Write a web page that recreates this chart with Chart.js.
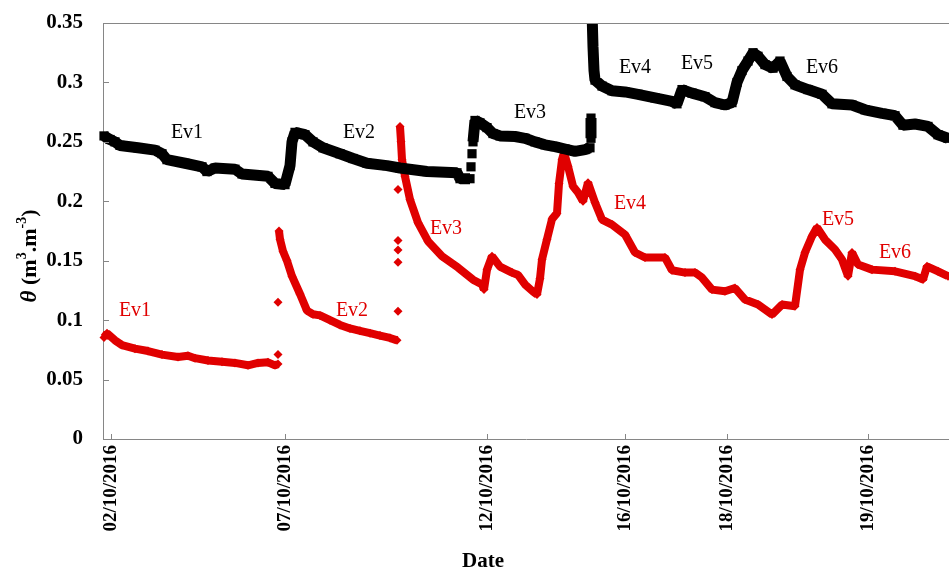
<!DOCTYPE html>
<html lang="en">
<head>
    <meta charset="UTF-8">
    <title>Soil moisture events</title>
    <script src="https://cdn.jsdelivr.net/npm/chart.js"></script>
    <style>
        body { margin: 0; background: #fff; }
        #wrap { width: 949px; height: 572px; }
    </style>
</head>
<body>
    <div id="wrap"><canvas id="chart" width="949" height="572"></canvas></div>

    <script>
        // sample index (x) and theta values; null = break in the record
        const blackX = [1, 7, 12, 17, 35, 52, 59, 64, 82, 99, 104, 112, 132, 139, 165, 172, 182, 187, 189, 192,
            202, 210, 220, 237, 250, 264, 284, 297, 324, 354, 357, 367, 367, 368, 368, 369, 369,
            370, 372, 377, 384, 390, 397, 412, 422, 432, 442, 452, 462, 472, 482, 487, 487,
            488, 488, 488, 488,
            489, 490, 491, 492, 499, 509, 522, 535, 552, 569, 574, 579, 589, 602, 612, 622, 629, 634, 639, 645,
            650, 655, 662, 670, 677, 684, 692, 705, 719, 729, 749, 762, 779, 792, 800, 812, 825, 835, 845];
        const blackY = [0.255, 0.252, 0.250, 0.247, 0.245, 0.243, 0.240, 0.235, 0.232, 0.229, 0.225, 0.228, 0.227, 0.223, 0.221, 0.215, 0.214, 0.230, 0.250, 0.258,
            0.256, 0.250, 0.245, 0.240, 0.236, 0.232, 0.230, 0.228, 0.225, 0.224, 0.219, 0.219, null, 0.229, null, 0.240, null,
            0.250, 0.268, 0.266, 0.262, 0.257, 0.255, 0.2545, 0.253, 0.250, 0.2475, 0.246, 0.244, 0.242, 0.2435, 0.245, null,
            0.253, 0.262, 0.270, null,
            0.36, 0.33, 0.31, 0.302, 0.297, 0.293, 0.292, 0.290, 0.287, 0.284, 0.282, 0.294, 0.291, 0.288, 0.283, 0.281, 0.283, 0.300, 0.310, 0.318,
            0.325, 0.322, 0.315, 0.312, 0.318, 0.305, 0.298, 0.294, 0.290, 0.282, 0.281, 0.277, 0.274, 0.272, 0.264, 0.265, 0.263, 0.256, 0.253];

        const redX = [1, 4, 12, 19, 32, 45, 59, 75, 85, 92, 105, 119, 132, 145, 155, 165, 172, 175, 175, 175, 175, 175, 175,
            176, 177, 180, 184, 189, 197, 204, 210, 217, 227, 237, 247, 257, 267, 277, 287, 294,
            295, 295, 295, 295, 295, 295, 295, 295, 295, 295, 295,
            297, 298, 299, 302, 307, 315, 325, 339, 355, 370, 379, 381, 384, 389, 397, 409, 415, 422, 430, 434, 437, 439,
            444, 449, 454, 456, 459, 461, 465, 470, 475, 480, 485, 492, 499, 509, 522, 532, 542, 562, 569, 582, 592, 599,
            609, 622, 632, 642, 655, 669, 679, 692, 697, 702, 709, 714, 722, 732, 739, 745, 749, 755, 769, 792, 812, 820,
            824, 835, 845];
        const redY = [0.0855, 0.089, 0.083, 0.079, 0.076, 0.074, 0.071, 0.069, 0.070, 0.068, 0.066, 0.065, 0.064, 0.062, 0.064, 0.0645, 0.062, 0.063, null, 0.071, null, 0.115, null,
            0.175, 0.168, 0.158, 0.150, 0.137, 0.122, 0.108, 0.105, 0.104, 0.100, 0.096, 0.093, 0.091, 0.089, 0.087, 0.085, 0.083,
            null, 0.1075, null, 0.1487, null, 0.159, null, 0.167, null, 0.210, null,
            0.263, 0.250, 0.235, 0.221, 0.2014, 0.182, 0.1664, 0.1538, 0.1442, 0.134, 0.130, 0.1257, 0.1425, 0.1538, 0.145, 0.140, 0.138, 0.130, 0.124, 0.1215, 0.135, 0.151,
            0.168, 0.185, 0.190, 0.215, 0.235, 0.241, 0.2295, 0.2126, 0.2073, 0.200, 0.2157, 0.199, 0.1846, 0.1804, 0.172, 0.1569, 0.1527, 0.1527, 0.142, 0.140, 0.140, 0.1358,
            0.1257, 0.1243, 0.127, 0.1173, 0.1131, 0.1047, 0.1131, 0.1117, 0.1425, 0.1569, 0.1706, 0.178, 0.1678, 0.1594, 0.151, 0.137, 0.1569, 0.1468, 0.1425, 0.1411, 0.137, 0.1342,
            0.1453, 0.1411, 0.137];

        const tickPos = [8, 182, 384, 522, 624, 765];
        const tickLabels = ['02/10/2016', '07/10/2016', '12/10/2016', '16/10/2016', '18/10/2016', '19/10/2016'];

        const evNames = ['Ev1', 'Ev2', 'Ev3', 'Ev4', 'Ev5', 'Ev6'];
        const blackEvX = [84, 256, 427, 532, 594, 719];
        const blackEvY = [0.258, 0.258, 0.2746, 0.3124, 0.3154, 0.3124];
        const redEvX = [32, 249, 343, 527, 735, 792];
        const redEvY = [0.108, 0.108, 0.1766, 0.1976, 0.1846, 0.1564];

        const BLACK = '#000000';
        const RED = '#e00000';
        const AXIS = '#868686';
        const SERIF = '"Liberation Serif", "Times New Roman", serif';

        const toPoints = (xs, ys) => xs.map((x, i) => ({ x: x, y: ys[i] }));

        // event labels, inside tick marks, top border and axis titles
        const extras = {
            id: 'extras',
            afterDraw(chart) {
                const ctx = chart.ctx;
                const xs = chart.scales.x, ys = chart.scales.y;
                const a = chart.chartArea;
                ctx.save();

                ctx.strokeStyle = AXIS;
                ctx.lineWidth = 1;
                ctx.beginPath();
                ctx.moveTo(a.left, a.top + 0.5);
                ctx.lineTo(a.right, a.top + 0.5);
                ys.ticks.forEach(t => {
                    const y = Math.round(ys.getPixelForValue(t.value)) + 0.5;
                    ctx.moveTo(a.left, y);
                    ctx.lineTo(a.left + 6, y);
                });
                xs.ticks.forEach(t => {
                    const x = Math.round(xs.getPixelForValue(t.value)) + 0.5;
                    ctx.moveTo(x, a.bottom);
                    ctx.lineTo(x, a.bottom - 5);
                });
                ctx.stroke();

                ctx.font = '20px ' + SERIF;
                ctx.textAlign = 'center';
                ctx.textBaseline = 'middle';
                evNames.forEach((n, i) => {
                    ctx.fillStyle = BLACK;
                    ctx.fillText(n, xs.getPixelForValue(blackEvX[i]), ys.getPixelForValue(blackEvY[i]));
                    ctx.fillStyle = RED;
                    ctx.fillText(n, xs.getPixelForValue(redEvX[i]), ys.getPixelForValue(redEvY[i]));
                });

                // x title
                ctx.fillStyle = BLACK;
                ctx.font = 'bold 21px ' + SERIF;
                ctx.fillText('Date', 483, 562);

                // y title: theta (m3.m-3) with superscripts
                const parts = [
                    { t: '\u03b8', f: 'italic bold 23px ' + SERIF, dy: 0 },
                    { t: ' (m', f: 'bold 22px ' + SERIF, dy: 0 },
                    { t: '3', f: 'bold 14px ' + SERIF, dy: -8 },
                    { t: '.m', f: 'bold 22px ' + SERIF, dy: 0 },
                    { t: '-3', f: 'bold 14px ' + SERIF, dy: -8 },
                    { t: ')', f: 'bold 22px ' + SERIF, dy: 0 }
                ];
                let total = 0;
                parts.forEach(p => { ctx.font = p.f; p.w = ctx.measureText(p.t).width; total += p.w; });
                ctx.translate(30, 256);
                ctx.rotate(-Math.PI / 2);
                ctx.textAlign = 'left';
                let cx = -total / 2;
                parts.forEach(p => {
                    ctx.font = p.f;
                    ctx.fillText(p.t, cx, p.dy);
                    cx += p.w;
                });
                ctx.restore();
            }
        };

        new Chart(document.getElementById('chart').getContext('2d'), {
            type: 'line',
            data: {
                datasets: [
                    {
                        label: 'black',
                        data: toPoints(blackX, blackY),
                        borderColor: BLACK,
                        backgroundColor: BLACK,
                        borderWidth: 11,
                        borderJoinStyle: 'bevel',
                        pointStyle: 'rect',
                        pointRadius: 6.5,
                        pointBorderWidth: 0,
                        pointBackgroundColor: BLACK,
                        tension: 0,
                        spanGaps: false,
                        clip: { left: 5, top: 0, right: 0, bottom: 5 }
                    },
                    {
                        label: 'red',
                        data: toPoints(redX, redY),
                        borderColor: RED,
                        backgroundColor: RED,
                        borderWidth: 8,
                        borderJoinStyle: 'bevel',
                        pointStyle: 'rectRot',
                        pointRadius: 4.5,
                        pointBorderWidth: 0,
                        pointBackgroundColor: RED,
                        tension: 0,
                        spanGaps: false,
                        clip: { left: 5, top: 0, right: 0, bottom: 5 }
                    }
                ]
            },
            options: {
                responsive: false,
                animation: false,
                layout: { autoPadding: false, padding: { top: 23, left: 0, right: 0, bottom: 0 } },
                plugins: {
                    legend: { display: false },
                    tooltip: { enabled: false }
                },
                scales: {
                    x: {
                        type: 'linear',
                        min: 0,
                        max: 846,
                        afterBuildTicks: s => { s.ticks = tickPos.map(v => ({ value: v })); },
                        afterFit: s => { s.height = 133; s.paddingLeft = 0; s.paddingRight = 0; },
                        grid: { display: false, drawTicks: false },
                        border: { color: AXIS, width: 1 },
                        ticks: {
                            autoSkip: false,
                            minRotation: 90,
                            maxRotation: 90,
                            padding: 6,
                            color: BLACK,
                            font: { family: SERIF, size: 19, weight: 'bold' },
                            callback: v => tickLabels[tickPos.indexOf(v)]
                        }
                    },
                    y: {
                        min: 0,
                        max: 0.35,
                        afterFit: s => { s.width = 103; s.paddingTop = 0; s.paddingBottom = 0; },
                        grid: { display: false, drawTicks: false },
                        border: { color: AXIS, width: 1 },
                        ticks: {
                            stepSize: 0.05,
                            padding: 20,
                            color: BLACK,
                            font: { family: SERIF, size: 21, weight: 'bold' },
                            callback: v => String(+v.toFixed(2))
                        }
                    }
                }
            },
            plugins: [extras]
        });
    </script>
</body>
</html>
